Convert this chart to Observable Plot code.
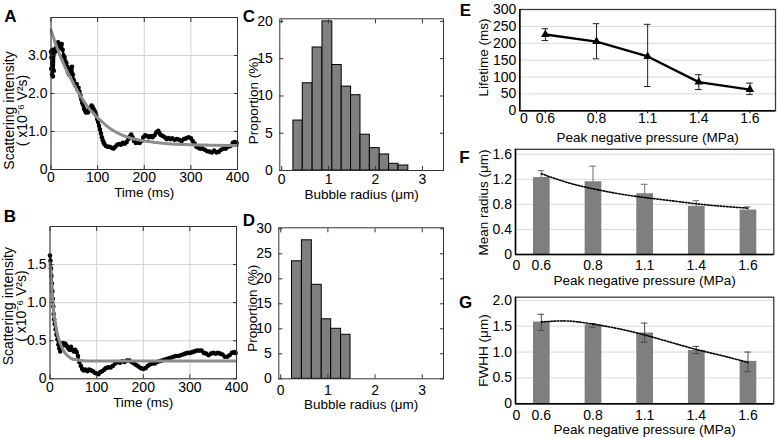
<!DOCTYPE html>
<html><head><meta charset="utf-8">
<script src="https://cdn.jsdelivr.net/npm/d3@7"></script>
<script src="https://cdn.jsdelivr.net/npm/@observablehq/plot@0.6"></script>
<style>
body{margin:0;background:#fff;}
#fig{position:relative;width:779px;height:438px;overflow:hidden;background:#fff;}
#fig svg{position:absolute;}
</style></head><body><div id="fig"></div>
<script>
// ---------- DATA ----------
// Panel A: scattering intensity vs time
const aTime = [
 0,0.5,1,2,3,4,5,6,7,9,
 11,13,15,17,19,21,23,25,27,29,
 31,33,35,37,39,41,43,45,47,49,
 51,53,55,57,59,61,63,65,67,69,
 71,73,75,77,79,81,83,85,87,89,
 91,93,95,97,99,101,103,105,107,109,
 111,113,115,118,122,126,130,134,138,142,
 146,150,154,158,162,166,170,172,175,178,
 182,186,190,194,198,202,206,210,214,218,
 222,226,230,233,236,240,244,248,252,256,
 260,265,270,275,280,285,290,295,300,304,
 308,312,316,320,325,330,335,340,345,350,
 355,360,365,370,375,380,385,390,394,398];
const aIntensity = [
 3.1,2.65,2.95,2.5,3.15,2.45,3.0,2.6,3.15,3.1,
 3.2,3.3,3.35,3.25,3.3,3.2,3.3,3.15,3.0,2.95,
 2.85,2.8,2.7,2.55,2.5,2.65,2.6,2.7,2.5,2.35,
 2.25,2.2,2.25,2.1,2.15,2.05,1.95,1.85,1.75,1.7,
 1.6,1.55,1.5,1.52,1.5,1.55,1.6,1.62,1.68,1.65,
 1.6,1.55,1.5,1.42,1.33,1.25,1.15,1.05,0.95,0.85,
 0.77,0.7,0.66,0.62,0.6,0.6,0.57,0.55,0.6,0.65,
 0.67,0.65,0.7,0.68,0.72,0.8,0.88,0.92,0.85,0.75,
 0.7,0.72,0.7,0.75,0.85,0.9,0.88,0.85,0.88,0.85,
 0.9,0.98,1.02,0.95,0.9,0.88,0.85,0.8,0.83,0.8,
 0.82,0.78,0.8,0.78,0.75,0.8,0.82,0.85,0.82,0.75,
 0.68,0.6,0.57,0.55,0.55,0.52,0.48,0.47,0.45,0.5,
 0.45,0.47,0.52,0.55,0.55,0.6,0.62,0.7,0.72,0.7];
const aFitTime  = [0,10,20,30,40,50,60,70,80,90,100,110,120,130,140,150,160,170,180,200,220,240,260,280,300,340,400];
const aFitValue = [3.67,3.3,2.98,2.7,2.45,2.22,2.0,1.8,1.63,1.49,1.36,1.25,1.14,1.05,0.98,0.92,0.87,0.83,0.8,0.75,0.72,0.69,0.67,0.66,0.65,0.64,0.63];

// Panel B
const bTime = [
 0,1,2,3,4,5,6,7,8,9,
 10,12,14,16,18,20,22,24,26,28,
 30,33,36,39,42,45,48,51,54,57,
 60,63,66,69,72,76,80,84,88,92,
 96,100,104,108,112,116,120,125,130,135,
 140,145,150,155,160,165,170,175,180,185,
 190,195,200,205,210,215,220,225,230,235,
 240,245,250,255,260,265,270,275,280,285,
 290,295,300,305,310,315,320,325,330,335,
 340,345,350,355,360,365,370,375,380,385,
 390,395,398];
const bIntensity = [
 1.62,1.55,1.45,1.35,1.25,1.15,1.05,0.95,0.85,0.78,
 0.72,0.65,0.58,0.52,0.45,0.4,0.36,0.42,0.45,0.47,
 0.44,0.46,0.43,0.4,0.38,0.42,0.38,0.36,0.38,0.35,
 0.3,0.22,0.17,0.13,0.11,0.12,0.1,0.12,0.11,0.1,
 0.08,0.07,0.06,0.09,0.1,0.12,0.14,0.15,0.15,0.17,
 0.2,0.22,0.21,0.23,0.22,0.24,0.24,0.22,0.2,0.18,
 0.16,0.14,0.13,0.14,0.17,0.19,0.2,0.2,0.22,0.23,
 0.24,0.25,0.26,0.27,0.28,0.29,0.3,0.3,0.31,0.32,
 0.33,0.34,0.34,0.35,0.36,0.37,0.37,0.37,0.34,0.33,
 0.31,0.33,0.34,0.33,0.34,0.33,0.32,0.29,0.29,0.31,
 0.34,0.35,0.34];
const bFitTime  = [0,2,4,6,8,10,13,16,20,25,30,35,40,48,56,65,80,150,250,398];
const bFitValue = [1.52,1.35,1.17,1.02,0.88,0.79,0.67,0.58,0.5,0.42,0.36,0.32,0.29,0.26,0.25,0.24,0.235,0.235,0.235,0.235];

const timeTicks = [0,100,200,300,400];
const aYTicks = [0,1,2,3];
const bYTicks = [0,0.5,1,1.5];

// Panels C, D: histograms of bubble radius
const cBinEdges = [0.25,0.45,0.66,0.87,1.08,1.28,1.48,1.68,1.88,2.09,2.29,2.49,2.7];
const cProportion = [6.7,11.7,16.5,20,14.15,11.25,10.1,4.8,3.0,2.15,0.9,0.67];
const dBinEdges = [0.24,0.45,0.66,0.87,1.07,1.28,1.48];
const dProportion = [23.5,27.7,18.8,11.9,10,8.8];
const radiusTicks = [0,1,2,3];
const cYTicks = [0,5,10,15,20];
const dYTicks = [0,5,10,15,20,25,30];

// Panels E, F, G: vs peak negative pressure
const pressureLabels = ["0.6","0.8","1.1","1.4","1.6"];
const pressureIndex = [1,2,3,4,5];
const eLifetime = [226,205,161,85,63];
const eUpper = [243,258,256,107,82];
const eLower = [208,154,72,63,48];
const eYTicks = [0,50,100,150,200,250,300];

const fMeanRadius = [1.23,1.16,0.97,0.77,0.71];
const fUpper = [1.34,1.41,1.12,0.86,0.76];
const fLower = [1.12,0.91,0.82,0.68,0.66];
const fTrendX = [1,1.5,2,2.5,3,3.5,4,4.5,5];
const fTrendY = [1.29,1.15,1.05,0.97,0.91,0.86,0.81,0.77,0.74];
const fYTicks = [0,0.4,0.8,1.2,1.6];

const gFWHH = [1.58,1.53,1.37,1.03,0.82];
const gUpper = [1.73,1.55,1.56,1.11,1.0];
const gLower = [1.42,1.48,1.19,0.97,0.62];
const gTrendX = [1,1.5,2,2.5,3,3.5,4,4.5,5];
const gTrendY = [1.58,1.6,1.54,1.45,1.33,1.19,1.05,0.93,0.8];
const gYTicks = [0,0.5,1,1.5,2];

// ---------- RENDER ----------
const fig = document.getElementById("fig");
const FONT = "'Liberation Sans', Arial, Helvetica, sans-serif";
const baseStyle = {fontFamily: FONT, fontSize: "14px", background: "transparent", overflow: "visible", color: "black"};
function put(svg, left, top) { svg.style.left = left + "px"; svg.style.top = top + "px"; fig.appendChild(svg); }
const fmt1 = d => d === 0 ? "0" : d.toFixed(1);
const fmtInt = d => String(d);
const blank = () => "";

function boxAxes(xTicks, yTicks, xFmt, yFmt, xPad, yPad) {
  return [
    Plot.axisX(xTicks, {anchor: "bottom", tickSize: -4, tickPadding: xPad, tickFormat: xFmt, fontSize: 14, label: null, stroke: "#333"}),
    Plot.axisX(xTicks, {anchor: "top", tickSize: -4, tickFormat: blank, label: null, stroke: "#333"}),
    Plot.axisY(yTicks, {anchor: "left", tickSize: -4, tickPadding: yPad, tickFormat: yFmt, fontSize: 14, label: null, stroke: "#333"}),
    Plot.axisY(yTicks, {anchor: "right", tickSize: -4, tickFormat: blank, label: null, stroke: "#333"})
  ];
}

const intensityTitle = "Scattering intensity\n( x10\u207B\u2076 V\u00B2s)";
const timeTitle = "Time (ms)";
const radiusTitle = "Bubble radius (\u03BCm)";
const propTitle = "Proportion (%)";
const pressureTitle = "Peak negative pressure (MPa)";

function timePanel(o) {
  const data = o.t.map((t, i) => ({t, v: o.v[i]}));
  const fit = o.ft.map((t, i) => ({t, v: o.fv[i]}));
  return Plot.plot({
    width: o.w, height: o.h, marginLeft: o.mL, marginRight: o.mR, marginTop: o.mT, marginBottom: o.mB,
    x: {domain: [0, 400], label: null},
    y: {domain: o.yDomain, label: null},
    style: baseStyle,
    marks: [
      Plot.gridX(timeTicks, {stroke: "#d2d2d2", strokeOpacity: 1}),
      Plot.gridY(o.yTicks, {stroke: "#d2d2d2", strokeOpacity: 1}),
      Plot.line(data, {x: "t", y: "v", stroke: "black", strokeWidth: 2.4}),
      Plot.dot(data, {x: "t", y: "v", r: 2.3, fill: "black"}),
      Plot.line(fit, {x: "t", y: "v", stroke: "#8c8c8c", strokeWidth: 3, curve: "monotone-x"}),
      ...boxAxes(timeTicks, o.yTicks, fmtInt, fmt1, o.xPad, 7.5),
      Plot.frame({stroke: "#333", strokeWidth: 1}),
      Plot.text([intensityTitle], {frameAnchor: "left", rotate: -90, dx: -34.5, dy: o.titleDy, lineHeight: 0.95, fontSize: 14, textAnchor: "middle", lineAnchor: "middle"}),
      Plot.text([timeTitle], {frameAnchor: "bottom", dy: o.xTitleDy, fontSize: 13.5, textAnchor: "middle", lineAnchor: "middle"}),
      Plot.text([o.letter], {frameAnchor: "top-left", dx: o.lDx, dy: o.lDy, fontSize: 17, fontWeight: "bold", textAnchor: "middle", lineAnchor: "middle"})
    ]
  });
}

function histPanel(o) {
  const bins = o.p.map((p, i) => ({x1: o.edges[i], x2: o.edges[i + 1], p}));
  return Plot.plot({
    width: o.w, height: o.h, marginLeft: o.mL, marginRight: o.mR, marginTop: o.mT, marginBottom: o.mB,
    x: {domain: [-0.04, 3.45], label: null},
    y: {domain: o.yDomain, label: null},
    style: baseStyle,
    marks: [
      Plot.rectY(bins, {x1: "x1", x2: "x2", y: "p", fill: "#7f7f7f", stroke: "black", strokeWidth: 1}),
      ...boxAxes(radiusTicks, o.yTicks, fmtInt, fmtInt, o.xPad, 11),
      Plot.frame({stroke: "#333", strokeWidth: 1}),
      Plot.text([propTitle], {frameAnchor: "left", rotate: -90, dx: -26.3, dy: o.titleDy, fontSize: 13.5, textAnchor: "middle", lineAnchor: "middle"}),
      Plot.text([radiusTitle], {frameAnchor: "bottom", dy: o.xTitleDy, fontSize: 13.5, textAnchor: "middle", lineAnchor: "middle"}),
      Plot.text([o.letter], {frameAnchor: "top-left", dx: o.lDx, dy: o.lDy, fontSize: 17, fontWeight: "bold", textAnchor: "middle", lineAnchor: "middle"})
    ]
  });
}

put(timePanel({t: aTime, v: aIntensity, ft: aFitTime, fv: aFitValue, yDomain: [0, 4], yTicks: aYTicks,
  w: 250, h: 205, mL: 50.5, mR: 13, mT: 17, mB: 36, xPad: 7, titleDy: 17, xTitleDy: 23.5, letter: "A", lDx: -40.5, lDy: -1}), 0, 0);
put(timePanel({t: bTime, v: bIntensity, ft: bFitTime, fv: bFitValue, yDomain: [0, 2], yTicks: bYTicks,
  w: 250, h: 233, mL: 49.5, mR: 14, mT: 21, mB: 59.7, xPad: 7.5, titleDy: 3.5, xTitleDy: 24.3, letter: "B", lDx: -40, lDy: -10}), 0, 205);
put(histPanel({edges: cBinEdges, p: cProportion, yDomain: [0, 20.35], yTicks: cYTicks,
  w: 217, h: 205, mL: 41.3, mR: 12, mT: 18.3, mB: 35, xPad: 8, titleDy: 6, xTitleDy: 24, letter: "C", lDx: -31, lDy: -2.3}), 238, 0);
put(histPanel({edges: dBinEdges, p: dProportion, yDomain: [0, 30.2], yTicks: dYTicks,
  w: 217, h: 233, mL: 40.3, mR: 12, mT: 22.3, mB: 59.7, xPad: 10, titleDy: 5, xTitleDy: 25.7, letter: "D", lDx: -30, lDy: -7.3}), 238, 205);

const pressureDomain = [0.5, 5.5];
function pressureCommon(o) {
  return [
    Plot.axisX(pressureIndex, {tickSize: o.tickSize, tickPadding: o.xPad - o.tickSize, tickFormat: i => pressureLabels[i - 1], fontSize: 14, label: null}),
    Plot.axisY(o.yTicks, {tickSize: 0, tickPadding: 3.5, tickFormat: o.yFmt, fontSize: 14, label: null}),
    Plot.text(["0"], {frameAnchor: "bottom-left", dx: o.zeroDx, dy: o.xPad, fontSize: 14, textAnchor: "middle", lineAnchor: "top"}),
    Plot.text([o.yTitle], {frameAnchor: "left", rotate: -90, dx: o.tDx, dy: o.tDy, fontSize: 13.5, textAnchor: "middle", lineAnchor: "middle"}),
    Plot.text([pressureTitle], {frameAnchor: "bottom", dy: o.xTitleDy, fontSize: 13.5, textAnchor: "middle", lineAnchor: "middle"}),
    Plot.text([o.letter], {frameAnchor: "top-left", dx: o.lDx, dy: o.lDy, fontSize: 17, fontWeight: "bold", textAnchor: "middle", lineAnchor: "middle"})
  ];
}
function boxLines(yDomain) {
  return [
    Plot.frame({stroke: "#3c3c3c", strokeWidth: 1.3}),
    Plot.ruleY([yDomain[0]], {stroke: "black", strokeWidth: 1.5}),
    Plot.ruleX([pressureDomain[0]], {stroke: "black", strokeWidth: 1.5})
  ];
}

// Panel E
const eData = pressureIndex.map((i, k) => ({i, v: eLifetime[k], hi: eUpper[k], lo: eLower[k]}));
const eYDomain = [0, 300];
put(Plot.plot({
  width: 327, height: 142, marginLeft: 67.3, marginRight: 4, marginTop: 9, marginBottom: 31.7,
  x: {domain: pressureDomain, label: null}, y: {domain: eYDomain, label: null},
  style: baseStyle,
  marks: [
    Plot.gridY(eYTicks, {stroke: "#d9d9d9", strokeOpacity: 1}),
    ...boxLines(eYDomain),
    Plot.ruleX(eData, {x: "i", y1: "lo", y2: "hi", stroke: "#222", strokeWidth: 1}),
    Plot.ruleY(eData, {y: "hi", x1: "i", x2: "i", insetLeft: -3.3, insetRight: -3.3, stroke: "#222", strokeWidth: 1}),
    Plot.ruleY(eData, {y: "lo", x1: "i", x2: "i", insetLeft: -3.3, insetRight: -3.3, stroke: "#222", strokeWidth: 1}),
    Plot.line(eData, {x: "i", y: "v", stroke: "black", strokeWidth: 2.3}),
    Plot.dot(eData, {x: "i", y: "v", symbol: "triangle", r: 3.2, fill: "black"}),
    ...pressureCommon({tickSize: 3, xPad: 2.5, yTicks: eYTicks, yFmt: fmtInt, zeroDx: 4, yTitle: "Lifetime (ms)", tDx: -36, tDy: -2.7, xTitleDy: 26.8, letter: "E", lDx: -54.3, lDy: 1})
  ]
}), 452, 0);

// Panel F
const fData = pressureIndex.map((i, k) => ({i, v: fMeanRadius[k], hi: fUpper[k], lo: fLower[k]}));
const fTrend = fTrendX.map((x, k) => ({x, y: fTrendY[k]}));
const fYDomain = [0, 1.68];
put(Plot.plot({
  width: 327, height: 145, marginLeft: 63, marginRight: 5.7, marginTop: 6.8, marginBottom: 33,
  x: {domain: pressureDomain, label: null}, y: {domain: fYDomain, label: null},
  style: baseStyle,
  marks: [
    Plot.gridY(fYTicks, {stroke: "#d9d9d9", strokeOpacity: 1}),
    Plot.ruleX(fData, {x: "i", y1: 0, y2: "v", stroke: "#7f7f7f", strokeWidth: 16.7}),
    Plot.ruleX(fData, {x: "i", y1: "lo", y2: "hi", stroke: "#858585", strokeWidth: 1.2}),
    Plot.ruleY(fData, {y: "hi", x1: "i", x2: "i", insetLeft: -3.3, insetRight: -3.3, stroke: "#858585", strokeWidth: 1.2}),
    Plot.line(fTrend, {x: "x", y: "y", stroke: "black", strokeWidth: 1.6, strokeDasharray: "1.6,1.6", curve: "natural"}),
    ...boxLines(fYDomain),
    ...pressureCommon({tickSize: 0, xPad: 6, yTicks: fYTicks, yFmt: fmt1, zeroDx: 1, yTitle: "Mean radius (\u03BCm)", tDx: -32, tDy: 0.6, xTitleDy: 26.5, letter: "F", lDx: -51, lDy: 8.2})
  ]
}), 452, 142);

// Panel G
const gData = pressureIndex.map((i, k) => ({i, v: gFWHH[k], hi: gUpper[k], lo: gLower[k]}));
const gTrend = gTrendX.map((x, k) => ({x, y: gTrendY[k]}));
const gYDomain = [0, 2.06];
put(Plot.plot({
  width: 327, height: 151, marginLeft: 63, marginRight: 5.7, marginTop: 9.7, marginBottom: 34.7,
  x: {domain: pressureDomain, label: null}, y: {domain: gYDomain, label: null},
  style: baseStyle,
  marks: [
    Plot.gridY(gYTicks, {stroke: "#d9d9d9", strokeOpacity: 1}),
    Plot.ruleX(gData, {x: "i", y1: 0, y2: "v", stroke: "#7f7f7f", strokeWidth: 16.7}),
    Plot.ruleX(gData, {x: "i", y1: "lo", y2: "hi", stroke: "#4a4a4a", strokeWidth: 1}),
    Plot.ruleY(gData, {y: "hi", x1: "i", x2: "i", insetLeft: -3.3, insetRight: -3.3, stroke: "#4a4a4a", strokeWidth: 1}),
    Plot.ruleY(gData, {y: "lo", x1: "i", x2: "i", insetLeft: -3.3, insetRight: -3.3, stroke: "#4a4a4a", strokeWidth: 1}),
    Plot.line(gTrend, {x: "x", y: "y", stroke: "black", strokeWidth: 1.6, strokeDasharray: "1.6,1.6", curve: "natural"}),
    ...boxLines(gYDomain),
    ...pressureCommon({tickSize: 0, xPad: 6, yTicks: gYTicks, yFmt: fmt1, zeroDx: 1, yTitle: "FWHH (\u03BCm)", tDx: -32, tDy: 0, xTitleDy: 25.8, letter: "G", lDx: -50, lDy: 5.3})
  ]
}), 452, 287);
</script></body></html>
